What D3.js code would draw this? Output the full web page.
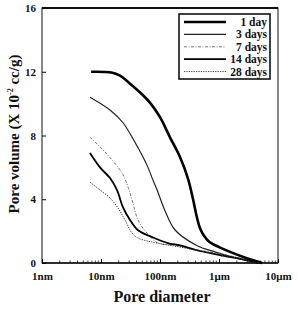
<!DOCTYPE html>
<html>
<head>
<meta charset="utf-8">
<script src="https://cdn.jsdelivr.net/npm/d3@7"></script>
<style>
  body { margin: 0; background: #fff; }
  svg text { font-family: "Liberation Serif", "DejaVu Serif", serif; fill: #111; }
</style>
</head>
<body>
<svg width="298" height="312"></svg>
<script>
// pore diameter in nm, pore volume in 10^-2 cc/g
var day1D   = [6.8, 15, 21, 30, 46, 68, 100, 147, 218, 298, 363, 420, 475, 560, 700, 1000, 1540, 2960, 5400];
var day1V   = [12.0, 11.95, 11.75, 11.3, 10.7, 10.05, 9.15, 7.9, 6.65, 5.3, 4.0, 2.9, 2.2, 1.7, 1.3, 1.0, 0.7, 0.3, 0];
var day3D   = [6.5, 14.2, 23.6, 36, 51.5, 62.6, 76, 89, 121, 180, 420, 850, 2270, 4600];
var day3V   = [10.4, 9.6, 8.8, 7.7, 6.65, 6.0, 5.2, 4.6, 3.3, 2.07, 1.1, 0.7, 0.25, 0];
var day7D   = [6.5, 11.7, 22.7, 28.7, 34.8, 42.3, 60, 92, 180, 475, 1540, 4100];
var day7V   = [7.9, 6.96, 5.65, 4.77, 3.76, 2.7, 1.88, 1.25, 1.1, 0.8, 0.45, 0.05];
var day14D  = [6.5, 9.6, 14.2, 18.7, 23.5, 31, 42, 73, 136, 218, 420, 1040, 2750, 4600];
var day14V  = [6.9, 6.0, 5.33, 4.58, 3.5, 2.7, 2.07, 1.63, 1.25, 1.1, 0.8, 0.5, 0.2, 0];
var day28D  = [6.5, 9.6, 14.2, 19.4, 25.5, 33.5, 42, 73, 218, 475, 1270, 3400, 4800];
var day28V  = [5.08, 4.58, 4.08, 3.45, 2.7, 1.88, 1.57, 1.32, 1.0, 0.75, 0.45, 0.12, 0];

var seriesNames = ['1 day', '3 days', '7 days', '14 days', '28 days'];
var xTickVals = [1, 10, 100, 1000, 10000];
var xTickLabels = ['1nm', '10nm', '100nm', '1\u03bcm', '10\u03bcm'];
var yTickVals = [0, 4, 8, 12, 16];

var svg = d3.select('svg');

var plotLeft = 42, plotRight = 278, plotTop = 8, plotBottom = 263;

var xScale = d3.scaleLog()
                .domain([1, 10000])
                .range([plotLeft, plotRight]);

var yScale = d3.scaleLinear()
                .domain([0, 16])
                .range([plotBottom, plotTop]);

// styles per series
var styles = [
    {width: 2.6, dash: null, color: '#000'},
    {width: 1.2, dash: null, color: '#222'},
    {width: 0.9, dash: '3,1.5,1,1.5', color: '#666'},
    {width: 1.8, dash: null, color: '#000'},
    {width: 1.0, dash: '1.2,1.2', color: '#333'}
];

var seriesData = [
    [day1D, day1V], [day3D, day3V], [day7D, day7V], [day14D, day14V], [day28D, day28V]
].map(function(p){
    return p[0].map(function(d, i){ return {x: d, y: p[1][i]}; });
});

var dataLine = d3.line()
                .x(function(d){ return xScale(d.x); })
                .y(function(d){ return yScale(d.y); })
                .curve(d3.curveCatmullRom.alpha(0.5));

// frame
svg.append('rect')
    .attr('x', plotLeft)
    .attr('y', plotTop)
    .attr('width', plotRight - plotLeft)
    .attr('height', plotBottom - plotTop)
    .attr('fill', 'none')
    .attr('stroke', '#111')
    .attr('stroke-width', 1);
// heavier top and bottom edges
svg.append('line')
    .attr('x1', plotLeft).attr('x2', plotRight)
    .attr('y1', plotTop).attr('y2', plotTop)
    .attr('stroke', '#111').attr('stroke-width', 2);
svg.append('line')
    .attr('x1', plotLeft).attr('x2', plotRight)
    .attr('y1', plotBottom).attr('y2', plotBottom)
    .attr('stroke', '#111').attr('stroke-width', 1.6);

// axes with inward ticks
var xAxis = d3.axisBottom(xScale)
                .tickValues(xTickVals)
                .tickSize(-4)
                .tickPadding(9)
                .tickFormat(function(d, i){ return xTickLabels[i]; });

var yAxis = d3.axisLeft(yScale)
                .tickValues(yTickVals)
                .tickSize(-4)
                .tickPadding(6)
                .tickFormat(d3.format('d'));

var xAxisG = svg.append('g')
    .attr('transform', 'translate(0,' + plotBottom + ')')
    .call(xAxis);
xAxisG.select('.domain').remove();
xAxisG.selectAll('text')
    .style('font-size', '11px')
    .style('font-weight', 'bold')
    .attr('fill', '#111');

var yAxisG = svg.append('g')
    .attr('transform', 'translate(' + plotLeft + ',0)')
    .call(yAxis);
yAxisG.select('.domain').remove();
yAxisG.selectAll('text')
    .style('font-size', '11px')
    .style('font-weight', 'bold')
    .attr('fill', '#111');

// minor log ticks on bottom
var minor = [];
for (var dec = 1; dec < 10000; dec *= 10) {
    for (var k = 2; k <= 9; k++) minor.push(dec * k);
}
svg.selectAll('.minorTick')
    .data(minor)
    .enter()
    .append('line')
    .attr('class', 'minorTick')
    .attr('x1', function(d){ return xScale(d); })
    .attr('x2', function(d){ return xScale(d); })
    .attr('y1', plotBottom)
    .attr('y2', plotBottom - 2.5)
    .attr('stroke', '#111')
    .attr('stroke-width', 0.8);

// curves
seriesData.forEach(function(dataObjList, i){
    var p = svg.append('path')
        .attr('fill', 'none')
        .attr('stroke', styles[i].color)
        .attr('stroke-width', styles[i].width)
        .attr('stroke-linejoin', 'round')
        .attr('d', dataLine(dataObjList));
    if (styles[i].dash) p.attr('stroke-dasharray', styles[i].dash);
});

// legend
var legendG = svg.append('g');
legendG.append('rect')
    .attr('x', 179).attr('y', 14)
    .attr('width', 91).attr('height', 65)
    .attr('fill', '#fff')
    .attr('stroke', '#111')
    .attr('stroke-width', 1.6);

seriesNames.forEach(function(name, i){
    var yy = 22 + i * 12.4;
    var l = legendG.append('line')
        .attr('x1', 184).attr('x2', 226)
        .attr('y1', yy).attr('y2', yy)
        .attr('stroke', styles[i].color)
        .attr('stroke-width', styles[i].width);
    if (styles[i].dash) l.attr('stroke-dasharray', styles[i].dash);
    legendG.append('text')
        .text(name)
        .attr('x', 267)
        .attr('y', yy + 4)
        .attr('text-anchor', 'end')
        .style('font-size', '11.5px')
        .style('font-weight', 'bold');
});

// axis titles
svg.append('text')
    .text('Pore diameter')
    .attr('x', 162)
    .attr('y', 302)
    .attr('text-anchor', 'middle')
    .style('font-size', '16px')
    .style('font-weight', 'bold');

var yLabel = svg.append('text')
    .attr('transform', 'translate(19,' + 134 + ') rotate(-90)')
    .attr('text-anchor', 'middle')
    .style('font-size', '15px')
    .style('font-weight', 'bold');
yLabel.append('tspan').text('Pore volume (X 10');
yLabel.append('tspan').text('-2').attr('dy', -6).style('font-size', '8px');
yLabel.append('tspan').text(' cc/g)').attr('dy', 6);
</script>
</body>
</html>
